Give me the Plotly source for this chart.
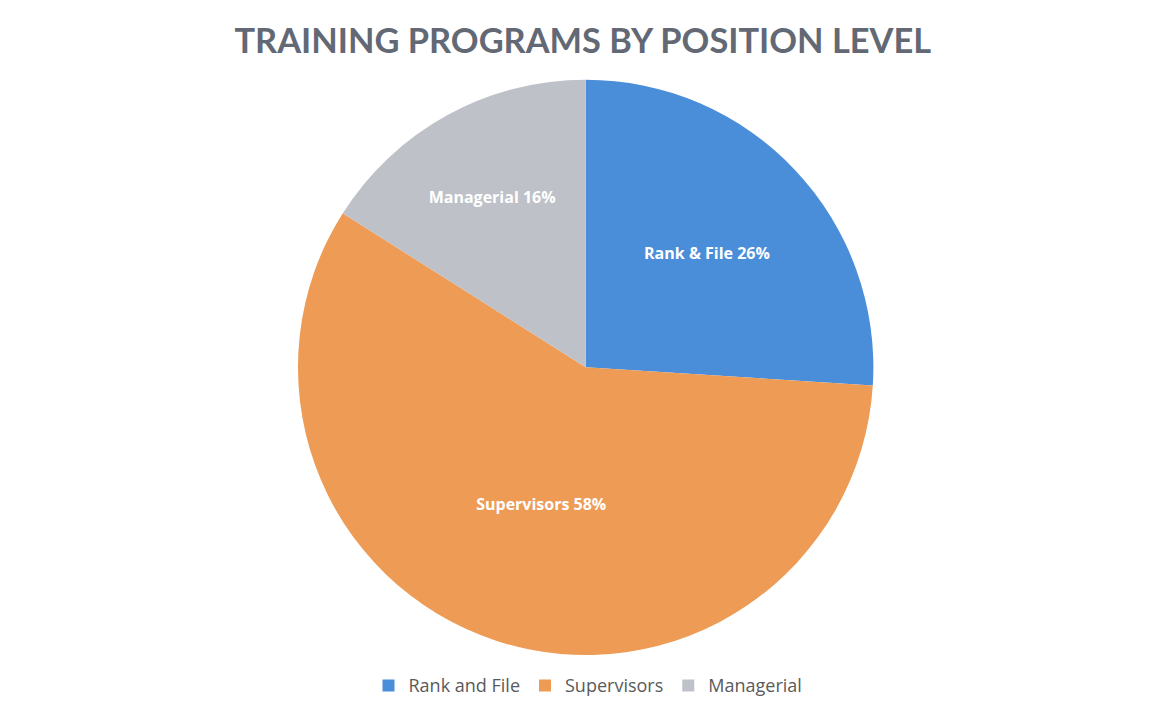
import plotly.graph_objects as go

categories = ["Rank and File", "Supervisors", "Managerial"]
label_texts = ["Rank & File", "Supervisors", "Managerial"]
values = [26, 58, 16]
colors = ["#4A8EDA", "#EE9B55", "#BEC1C7"]

texts = [f"{t} {v}%" for t, v in zip(label_texts, values)]

fig = go.Figure(go.Pie(
    labels=categories,
    values=values,
    text=texts,
    textinfo="text",
    textposition="inside",
    insidetextorientation="horizontal",
    sort=False,
    direction="clockwise",
    rotation=0,
    marker=dict(colors=colors, line=dict(width=0)),
    textfont=dict(family="Open Sans", size=16, color="white", weight="bold"),
    hoverinfo="label+percent",
    domain=dict(x=[0.0, 0.996], y=[0.0835, 0.8985]),
))

fig.update_layout(
    width=1160, height=706,
    paper_bgcolor="white", plot_bgcolor="white",
    margin=dict(l=0, r=0, t=0, b=0),
    title=dict(text="<b>TRAINING PROGRAMS BY POSITION LEVEL</b>",
               x=0.4955, xanchor="center", y=0.953, yanchor="middle",
               font=dict(family="Lato", size=34.4, color="#626874")),
    legend=dict(orientation="h", x=0.5, xanchor="center", y=0.04, yanchor="middle",
                font=dict(family="Open Sans", size=18, color="#5A5A5A"),
                itemwidth=30, traceorder="normal"),
    showlegend=True,
)

fig.write_html("out.html")
